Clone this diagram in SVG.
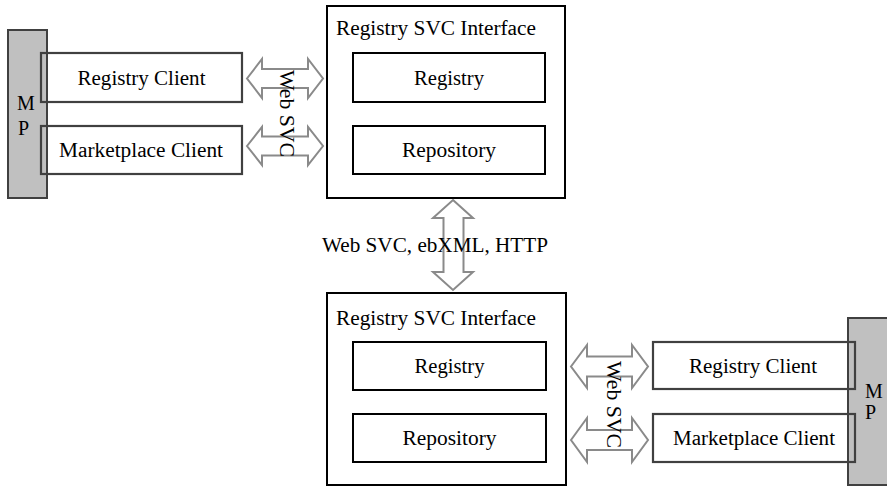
<svg xmlns="http://www.w3.org/2000/svg" width="887" height="487" viewBox="0 0 887 487">
<style>
  text { font-family: "Liberation Serif", "Times New Roman", serif; font-size: 20px; fill: #000; }
  .mp { fill: #c0c0c0; stroke: #404040; stroke-width: 2; }
  .client { fill: none; stroke: #404040; stroke-width: 2.2; }
  .box { fill: #fff; stroke: #000; stroke-width: 2; }
  .inner { fill: #fff; stroke: #000; stroke-width: 2; }
  .arrow { fill: none; stroke: #8a8a8a; stroke-width: 2; stroke-linejoin: miter; }
</style>
<rect width="887" height="487" fill="#fff"/>

<g id="mp-left">
  <rect class="mp" x="8" y="30" width="39" height="168"/>
  <text x="17" y="110">M</text>
  <text x="18" y="135">P</text>
</g>
<g id="registry-client-left">
  <rect class="client" x="41" y="53" width="201" height="49"/>
  <text x="141.5" y="85" text-anchor="middle" textLength="128" lengthAdjust="spacingAndGlyphs">Registry Client</text>
</g>
<g id="marketplace-client-left">
  <rect class="client" x="41" y="126" width="201" height="48"/>
  <text x="141" y="157" text-anchor="middle" textLength="164" lengthAdjust="spacingAndGlyphs">Marketplace Client</text>
</g>

<g id="registry-svc-top">
  <rect class="box" x="327" y="6" width="238" height="192"/>
  <text x="336" y="35" textLength="200" lengthAdjust="spacingAndGlyphs">Registry SVC Interface</text>
</g>
<g id="registry-top">
  <rect class="inner" x="353" y="53" width="192" height="49"/>
  <text x="449" y="85" text-anchor="middle" textLength="70" lengthAdjust="spacingAndGlyphs">Registry</text>
</g>
<g id="repository-top">
  <rect class="inner" x="353" y="126" width="192" height="48"/>
  <text x="449" y="157" text-anchor="middle" textLength="94" lengthAdjust="spacingAndGlyphs">Repository</text>
</g>

<g id="registry-svc-bottom">
  <rect class="box" x="327" y="293" width="239" height="192"/>
  <text x="336" y="325" textLength="200" lengthAdjust="spacingAndGlyphs">Registry SVC Interface</text>
</g>
<g id="registry-bottom">
  <rect class="inner" x="353" y="342" width="193" height="48"/>
  <text x="449.5" y="373" text-anchor="middle" textLength="70" lengthAdjust="spacingAndGlyphs">Registry</text>
</g>
<g id="repository-bottom">
  <rect class="inner" x="353" y="414" width="193" height="48"/>
  <text x="449.5" y="445" text-anchor="middle" textLength="94" lengthAdjust="spacingAndGlyphs">Repository</text>
</g>

<g id="mp-right">
  <rect class="mp" x="848" y="318" width="41" height="167"/>
  <text x="865" y="398">M</text>
  <text x="865" y="419">P</text>
</g>
<g id="registry-client-right">
  <rect class="client" x="653" y="342" width="202" height="47"/>
  <text x="753" y="373" text-anchor="middle" textLength="128" lengthAdjust="spacingAndGlyphs">Registry Client</text>
</g>
<g id="marketplace-client-right">
  <rect class="client" x="653" y="414" width="202" height="48"/>
  <text x="754" y="445" text-anchor="middle" textLength="162" lengthAdjust="spacingAndGlyphs">Marketplace Client</text>
</g>

<g id="connectors">
  <polygon class="arrow" points="247,78.5 262,59 262,69 308,69 308,59 323,78.5 308,98 308,88 262,88 262,98"/>
  <polygon class="arrow" points="247,146 262,127 262,136.5 308,136.5 308,127 323,146 308,165 308,155.5 262,155.5 262,165"/>
  <text transform="translate(280,70) rotate(90)" textLength="87" lengthAdjust="spacingAndGlyphs">Web SVC</text>

  <polygon class="arrow" points="453,200 473,218 463.5,218 463.5,272 473,272 453,290 433,272 443.5,272 443.5,218 433,218"/>
  <text x="322" y="252" textLength="226" lengthAdjust="spacingAndGlyphs">Web SVC, ebXML, HTTP</text>

  <polygon class="arrow" points="571,366.5 587,345 587,356.5 632,356.5 632,345 648,366.5 632,388 632,376.5 587,376.5 587,388"/>
  <polygon class="arrow" points="571,440 587,418 587,430 632,430 632,418 648,440 632,462 632,450 587,450 587,462"/>
  <text transform="translate(607,361) rotate(90)" textLength="87" lengthAdjust="spacingAndGlyphs">Web SVC</text>
</g>
</svg>
